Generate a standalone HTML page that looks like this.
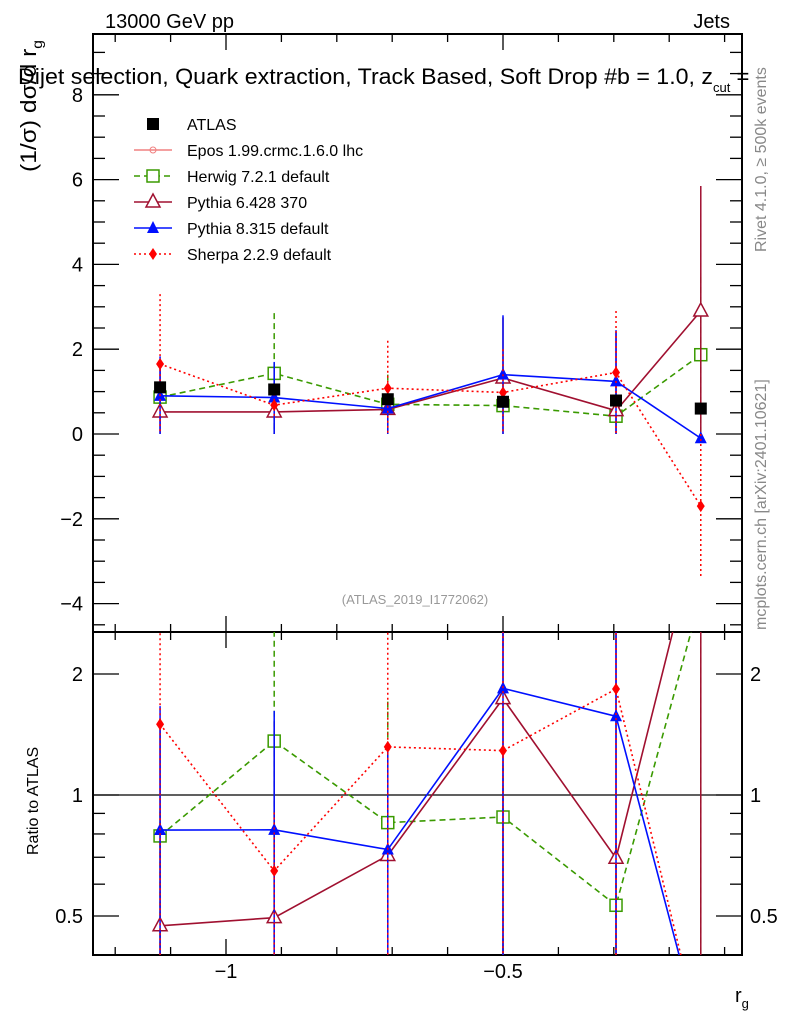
<!DOCTYPE html>
<html><head><meta charset="utf-8"><style>
body{margin:0;background:#fff;}
svg text{font-family:"Liberation Sans",sans-serif;}
</style></head><body>
<svg id="c" width="786" height="1024" xmlns="http://www.w3.org/2000/svg">
<text x="105" y="28" font-size="20">13000 GeV pp</text>
<text x="730" y="28" font-size="20" text-anchor="end">Jets</text>
<text x="18" y="84" font-size="22"><tspan textLength="695" lengthAdjust="spacingAndGlyphs">Dijet selection, Quark extraction, Track Based, Soft Drop #b = 1.0, z</tspan><tspan font-size="13" dy="8">cut</tspan><tspan dy="-8"> =</tspan></text>
<text transform="translate(36,172) rotate(-90)" font-size="22" textLength="132" lengthAdjust="spacingAndGlyphs">(1/σ) dσ/d r<tspan font-size="14" dy="6">g</tspan></text>
<text transform="translate(38,855) rotate(-90)" font-size="16">Ratio to ATLAS</text>
<text transform="translate(766,252) rotate(-90)" font-size="16" fill="#888">Rivet 4.1.0, ≥ 500k events</text>
<text transform="translate(766,630) rotate(-90)" font-size="16" fill="#888">mcplots.cern.ch [arXiv:2401.10621]</text>
<text x="415" y="604" font-size="13" fill="#999" text-anchor="middle">(ATLAS_2019_I1772062)</text>
<text x="735" y="1002" font-size="20">r<tspan font-size="13" dy="6">g</tspan></text>
<g id="g"></g>
</svg>
<script>
const xs=[-1.119,-0.913,-0.708,-0.5,-0.296,-0.143];
const atlas=[1.1,1.05,0.82,0.76,0.79,0.6];
const herwig=[0.87,1.43,0.7,0.67,0.42,1.87];
const herwigHi=[1.0,2.85,1.4,0.9,0.6,3.7];
const herwigLo=[0.7,0,0,0.4,0.25,0];
const py6=[0.52,0.52,0.58,1.32,0.55,2.9];
const py6Hi=[1.7,1.6,1.1,2.75,2.4,5.85];
const py6Lo=[0,0,0,0,0,0];
const py8=[0.9,0.86,0.6,1.4,1.24,-0.1];
const py8Hi=[1.83,1.7,1.1,2.8,2.45,0];
const py8Lo=[0,0,0,0,0,-0.1];
const sherpa=[1.65,0.68,1.08,0.98,1.45,-1.7];
const sherpaHi=[3.3,0.95,2.2,2.0,2.9,0];
const sherpaLo=[0,0.4,0,0,0,-3.4];
const yTicks=[-4,-2,0,2,4,6,8];
const rTicks=[0.5,1,2];
const xTicks=[-1,-0.5];
const L=93,R=742,T=34,M=632,B=955;
const X=v=>226+(v+1)*554;
const Y=v=>434-v*42.4;
const RY=v=>795-Math.log2(Math.max(v,0.25))*121;
const g=document.getElementById('g');
const NS='http://www.w3.org/2000/svg';
function el(t,a){const e=document.createElementNS(NS,t);for(const k in a)e.setAttribute(k,a[k]);g.appendChild(e);return e;}
let f=el('rect',{x:L,y:T,width:R-L,height:M-T,fill:'none',stroke:'#000','stroke-width':2});


f=el('rect',{x:L,y:M,width:R-L,height:B-M,fill:'none',stroke:'#000','stroke-width':2});


for(let i=-12;i<=-1;i++){const v=i/10;const x=X(v);if(x<L||x>R)continue;const maj=Math.abs(v*2-Math.round(v*2))<1e-6;const h=maj?16:8;
[[T,T+h],[M,M-h],[M,M+h],[B,B-h]].forEach(p=>el('line',{x1:x,x2:x,y1:p[0],y2:p[1],stroke:'#000','stroke-width':1.3}));}
xTicks.forEach(v=>{const t=el('text',{x:X(v),y:978,'font-size':20,'text-anchor':'middle'});t.textContent='\u2212'+String(Math.abs(v));

});
for(let v=-4.5;v<=9.5;v+=0.5){const y=Y(v);if(y<T||y>M)continue;const maj=Number.isInteger(v/2);const h=maj?26:12;
el('line',{x1:L,x2:L+h,y1:y,y2:y,stroke:'#000','stroke-width':1.3});el('line',{x1:R,x2:R-h,y1:y,y2:y,stroke:'#000','stroke-width':1.3});}
yTicks.forEach(v=>{const t=el('text',{x:83,y:Y(v)+7,'font-size':20,'text-anchor':'end'});t.textContent=(v<0?'\u2212':'')+Math.abs(v);

});
[0.4,0.5,0.6,0.7,0.8,0.9,1,2].forEach(v=>{const y=RY(v);const maj=rTicks.includes(v);const h=maj?26:12;
el('line',{x1:L,x2:L+h,y1:y,y2:y,stroke:'#000','stroke-width':1.3});el('line',{x1:R,x2:R-h,y1:y,y2:y,stroke:'#000','stroke-width':1.3});});
rTicks.forEach(v=>{[[83,'end'],[750,'start']].forEach(p=>{const t=el('text',{x:p[0],y:RY(v)+7,'font-size':20,'text-anchor':p[1]});t.textContent=String(v);

});});
el('line',{x1:L,x2:R,y1:RY(1),y2:RY(1),stroke:'#000','stroke-width':1.3});
const series=[
 {n:'herwig',v:herwig,hi:herwigHi,lo:herwigLo,c:'#3a9a00',d:'6,4',m:'sq'},
 {n:'pythia6',v:py6,hi:py6Hi,lo:py6Lo,c:'#a01030',d:'',m:'tri'},
 {n:'pythia8',v:py8,hi:py8Hi,lo:py8Lo,c:'#0010ff',d:'',m:'ftri'},
 {n:'sherpa',v:sherpa,hi:sherpaHi,lo:sherpaLo,c:'#ff0000',d:'2,3',m:'dia'}];
function marker(m,x,y,c,name){let e;
 if(m=='sq')e=el('rect',{x:x-6,y:y-6,width:12,height:12,fill:'#fff',stroke:c,'stroke-width':1.5});
 else if(m=='tri')e=el('polygon',{points:`${x},${y-8} ${x-7},${y+5} ${x+7},${y+5}`,fill:'#fff',stroke:c,'stroke-width':1.5});
 else if(m=='ftri')e=el('polygon',{points:`${x},${y-7} ${x-6},${y+5} ${x+6},${y+5}`,fill:c});
 else if(m=='dia')e=el('polygon',{points:`${x},${y-6} ${x-4},${y} ${x},${y+6} ${x+4},${y}`,fill:c});
 else e=el('rect',{x:x-6,y:y-6,width:12,height:12,fill:c});
 
 }
const clipM=el('clipPath',{id:'cm'});clipM.appendChild(document.createElementNS(NS,'rect'));
clipM.firstChild.setAttribute('x',L);clipM.firstChild.setAttribute('y',T);clipM.firstChild.setAttribute('width',R-L);clipM.firstChild.setAttribute('height',M-T);
const clipR=el('clipPath',{id:'cr'});clipR.appendChild(document.createElementNS(NS,'rect'));
clipR.firstChild.setAttribute('x',L);clipR.firstChild.setAttribute('y',M);clipR.firstChild.setAttribute('width',R-L);clipR.firstChild.setAttribute('height',B-M);
series.forEach(s=>{
 s.v.forEach((v,i)=>{
  let e=el('line',{x1:X(xs[i]),x2:X(xs[i]),y1:Y(s.hi[i]),y2:Y(s.lo[i]),stroke:s.c,'stroke-width':1.5,'stroke-dasharray':s.d,'clip-path':'url(#cm)'});
  
  
  e=el('line',{x1:X(xs[i]),x2:X(xs[i]),y1:RY(s.hi[i]/atlas[i]),y2:B,stroke:s.c,'stroke-width':1.5,'stroke-dasharray':s.d,'clip-path':'url(#cr)'});
  
  });
 let p=el('polyline',{points:s.v.map((v,i)=>X(xs[i])+','+Y(v)).join(' '),fill:'none',stroke:s.c,'stroke-width':1.6,'stroke-dasharray':s.d,'clip-path':'url(#cm)'});
 
 
 p=el('polyline',{points:s.v.map((v,i)=>X(xs[i])+','+RY(v/atlas[i])).join(' '),fill:'none',stroke:s.c,'stroke-width':1.6,'stroke-dasharray':s.d,'clip-path':'url(#cr)'});
 
 
 s.v.forEach((v,i)=>{marker(s.m,X(xs[i]),Y(v),s.c,s.n+'-point');
  if(v/atlas[i]>0.4&&v/atlas[i]<2.5)marker(s.m,X(xs[i]),RY(v/atlas[i]),s.c,s.n+'-ratio-point');});
});
atlas.forEach((v,i)=>marker('atlas',X(xs[i]),Y(v),'#000','atlas-point'));
const leg=[['ATLAS','#000','','atlas'],['Epos 1.99.crmc.1.6.0 lhc','#f08080','','epos'],['Herwig 7.2.1 default','#3a9a00','6,4','sq'],['Pythia 6.428 370','#a01030','','tri'],['Pythia 8.315 default','#0010ff','','ftri'],['Sherpa 2.2.9 default','#ff0000','2,3','dia']];
leg.forEach((l,i)=>{const y=124+i*26;
 if(i>0){const e=el('line',{x1:134,x2:172,y1:y,y2:y,stroke:l[1],'stroke-width':1.5,'stroke-dasharray':l[2]});
  
  }
 if(l[3]=='epos'){const e=el('circle',{cx:153,cy:y,r:3,fill:'none',stroke:l[1]});
  
  }
 else marker(l[3],153,y,l[1],'legend-marker');
 const t=el('text',{x:187,y:y+6,'font-size':16});t.textContent=l[0];
 
 });
</script>
</body></html>
